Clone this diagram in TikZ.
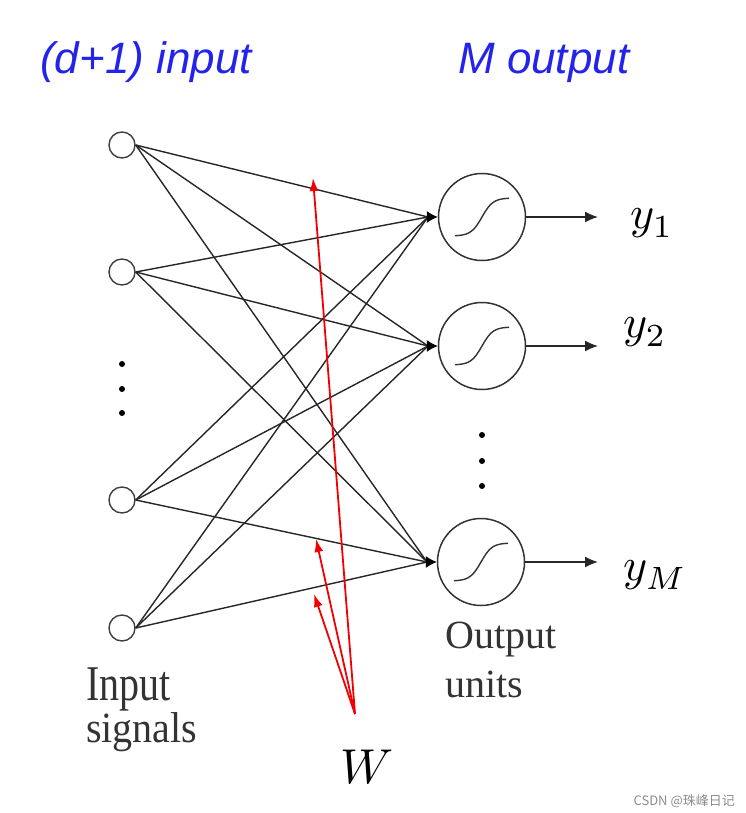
\documentclass[tikz,border=0pt]{standalone}
\usepackage{fontspec}
\setmainfont{Liberation Serif}
\newfontfamily\headfont{Liberation Sans}
\newfontfamily\cjkfont{Noto Sans CJK SC}
\usetikzlibrary{arrows.meta,calc}
\definecolor{headblue}{RGB}{35,35,235}
\definecolor{wred}{RGB}{240,0,0}
\begin{document}
\begin{tikzpicture}[x=1pt,y=-1pt,
  inp/.style={circle,draw=black!75,line width=1.4pt,minimum size=26pt,inner sep=0pt},
  outp/.style={circle,draw=black!80,line width=1.5pt,minimum size=87pt,inner sep=0pt},
  conn/.style={line width=1.4pt,black!85},
  junc/.style={line width=1pt,-{Latex[length=11pt,width=12pt]}},
  outarr/.style={line width=1.4pt,black!85,-{Latex[length=13pt,width=11pt]}},
  redarr/.style={line width=1.8pt,wred,-{Latex[length=13pt,width=9pt]}},
  sig/.style={line width=1.4pt,black!80},
  head/.style={font=\headfont\itshape\fontsize{44}{44}\selectfont,text=headblue,inner sep=0pt},
  lbl/.style={font=\fontsize{40}{40}\selectfont,text=black!80,inner sep=0pt},
  ylbl/.style={font=\normalsize,inner sep=0pt},
  dot/.style={circle,fill=black,minimum size=6pt,inner sep=0pt}]
\useasboundingbox (0,0) rectangle (745,813);

% headings
\node[head,anchor=base west] (hin) at (40,74) {(d+1) input};
\node[head,anchor=base west] (hout) at (458,74) {M output};

% input nodes
\node[inp] (i1) at (122,145) {};
\node[inp] (i2) at (122,272) {};
\node[inp] (i3) at (122,500) {};
\node[inp] (i4) at (122,628) {};
\node[dot] (d1) at (122,364) {};
\node[dot] (d2) at (122,389) {};
\node[dot] (d3) at (122,413) {};

% output nodes
\node[outp] (o1) at (482,217) {};
\node[outp] (o2) at (482,346) {};
\node[outp] (o3) at (481,562) {};
\node[dot] (e1) at (482,435) {};
\node[dot] (e2) at (482,461) {};
\node[dot] (e3) at (482,486) {};

% junction points
\coordinate (j1) at (428,217);
\coordinate (j2) at (428,346);
\coordinate (j3) at (427,562);

% connections
\foreach \i in {i1,i2,i3,i4}{
  \foreach \j in {j1,j2,j3}{
    \draw[conn] (\i.east) -- (\j);
  }
}
\draw[junc] (j1) -- (o1.west);
\draw[junc] (j2) -- (o2.west);
\draw[junc] (j3) -- (o3.west);

% sigmoids
\foreach \o in {o1,o2,o3}{
  \draw[sig,shift={(\o)}] plot[domain=-27:27,samples=40,smooth] (\x,{-19*tanh(\x/11)});
}

% output arrows and labels
\coordinate (a1) at (598,217);
\coordinate (a2) at (598,346);
\coordinate (a3) at (598,562);
\draw[outarr] (o1.east) -- (a1);
\draw[outarr] (o2.east) -- (a2);
\draw[outarr] (o3.east) -- (a3);
\node[ylbl,anchor=base west] (y1) at (630,228) {\scalebox{4.6}{$y_{\lower0.6pt\hbox{$\scriptstyle 1$}}$}};
\node[ylbl,anchor=base west] (y2) at (623,337) {\scalebox{4.6}{$y_{\lower0.6pt\hbox{$\scriptstyle 2$}}$}};
\node[ylbl,anchor=base west] (yM) at (623,580) {\scalebox{4.6}{$y_{\lower0.6pt\hbox{$\scriptstyle M$}}$}};

% red weight arrows
\coordinate (wp) at (355,714);
\coordinate (r1) at (313,178);
\coordinate (r2) at (316,539);
\coordinate (r3) at (314,594);
\draw[redarr] (wp) -- (r1);
\draw[redarr] (wp) -- (r2);
\draw[redarr] (wp) -- (r3);
\node[ylbl,anchor=base west] (W) at (340,783) {\scalebox{4.9}{$W$}};

% text labels
\node[lbl,anchor=base west] (in1) at (86,700) {\scalebox{1}[1.25]{Input}};
\node[lbl,anchor=base west] (in2) at (86,742) {\scalebox{1}[1.08]{signals}};
\node[lbl,anchor=base west] (ou1) at (445,648) {Output};
\node[lbl,anchor=base west] (ou2) at (445,697) {units};

% watermark
\node[anchor=base east,font=\cjkfont\fontsize{13}{13}\selectfont,text=black!45,inner sep=0pt] (wm) at (735,805) {CSDN @珠峰日记};
\end{tikzpicture}
\end{document}
